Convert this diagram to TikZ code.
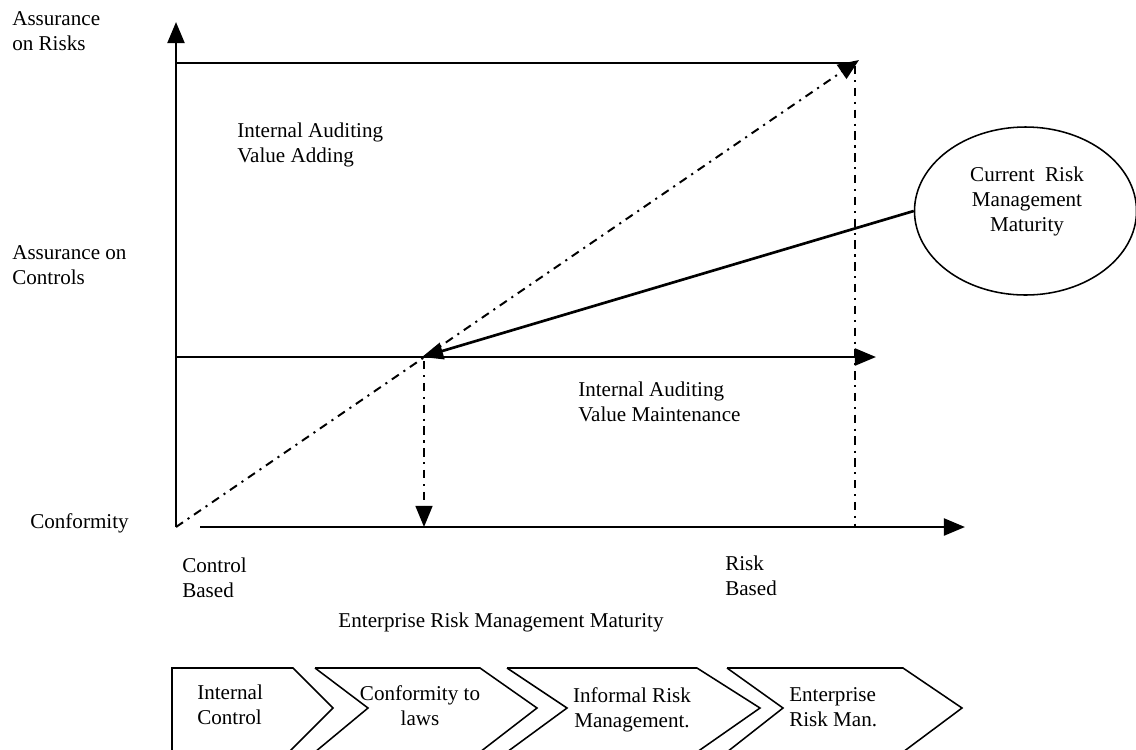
\documentclass[tikz,border=0pt]{standalone}
\usepackage{fontspec}
\setmainfont{Liberation Serif}
\usetikzlibrary{arrows.meta,shapes.geometric}
\tikzset{
  axis/.style={black,line width=1.9pt,-{Triangle[length=15pt,width=12pt]}},
  plain/.style={black,line width=1.9pt},
  dashdot/.style={black,line width=1.4pt,dash pattern=on 6pt off 4pt on 1.5pt off 4pt},
  tip/.style={-{Triangle[length=15pt,width=12pt]}},
  lbl/.style={anchor=north west,inner sep=0pt,align=left,font=\fontsize{15}{17.7}\selectfont},
  clbl/.style={anchor=north,inner sep=0pt,align=center,font=\fontsize{15}{17.7}\selectfont},
  chevron/.style={black,line width=1.1pt,line join=miter},
}
\begin{document}
\begin{tikzpicture}[x=0.25mm,y=-0.25mm]
\useasboundingbox (0,0) rectangle (1136,749);
\clip (0,0) rectangle (1136,749);
% points of the chart
\coordinate (origin) at (176,527);
\coordinate (ytop) at (176,22);
\coordinate (xstart) at (200,527);
\coordinate (xend) at (965,527);
\coordinate (riskl) at (176,63);
\coordinate (riskr) at (850,63);
\coordinate (ctrll) at (176,357);
\coordinate (ctrlr) at (876,357);
\coordinate (diagtop) at (859,60);
\coordinate (cross) at (422,357);
\coordinate (crossdn) at (424,361);
\coordinate (crossax) at (424,527);
\coordinate (rbtop) at (855,66);
\coordinate (rbax) at (855,527);
% axes and levels
\draw[axis] (origin) -- (ytop);
\draw[axis] (xstart) -- (xend);
\draw[plain] (riskl) -- (riskr);
\draw[axis] (ctrll) -- (ctrlr);
\draw[dashdot,tip] (origin) -- (diagtop);
\draw[dashdot] (rbtop) -- (rbax);
\draw[dashdot,tip] (crossdn) -- (crossax);
% current maturity
\node[ellipse,draw,line width=1.1pt,minimum width=55.5mm,minimum height=42mm,inner sep=0pt] (current) at (1025.5,211) {};
\node[clbl] (currenttxt) at (1027,167) {Current~~Risk\\Management\\Maturity};
\draw[plain,tip] (current.west) -- (cross);
% axis labels
\node[lbl] (arisk) at (12,11) {Assurance\\on Risks};
\node[lbl] (actrl) at (12,245) {Assurance on\\Controls};
\node[lbl] (conf) at (30,513) {Conformity};
\node[lbl] (adding) at (237,123) {Internal Auditing\\Value Adding};
\node[lbl] (maint) at (578,382) {Internal Auditing\\Value Maintenance};
\node[lbl] (ctrlbased) at (182,558) {Control\\Based};
\node[lbl] (riskbased) at (725,556) {Risk\\Based};
\node[clbl] (ermm) at (501,613) {Enterprise Risk Management Maturity};
% chevrons
\draw[chevron] (172,755) -- (172,668) -- (293,668) -- (333,708) -- (286,755);
\draw[chevron] (315,668) -- (480,668) -- (537,708) -- (480,752);
\draw[chevron] (315,668) -- (368,708) -- (315,752);
\draw[chevron] (507,668) -- (697,668) -- (760,708) -- (697,752);
\draw[chevron] (507,668) -- (567,708) -- (507,752);
\draw[chevron] (727,668) -- (903,668) -- (962,708) -- (903,752);
\draw[chevron] (727,668) -- (783,708) -- (727,752);
\node[lbl] (stage1) at (197,685) {Internal\\Control};
\node[clbl] (stage2) at (420,685) {Conformity to\\laws};
\node[clbl] (stage3) at (632,687) {Informal Risk\\Management.};
\node[lbl] (stage4) at (789,687) {Enterprise\\Risk Man.};
\end{tikzpicture}
\end{document}
